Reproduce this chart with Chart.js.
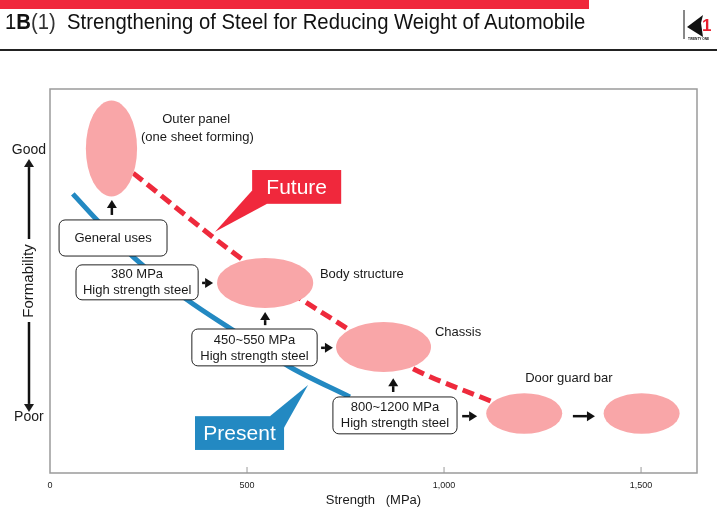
<!DOCTYPE html>
<html>
<head>
<meta charset="utf-8">
<script src="https://cdn.jsdelivr.net/npm/chart.js@4.4.1/dist/chart.umd.min.js"></script>
<style>
  html, body { margin: 0; padding: 0; background: #fff; }
  #wrap { position: relative; width: 720px; height: 530px; overflow: hidden; }
  #myChart { position: absolute; left: 0; top: 0; }
  .bar { position: absolute; left: 0; top: 0; width: 589px; height: 9px; background: #f0283c; }
  .title { position: absolute; left: 5px; top: 11px; font-family: "Liberation Sans", Arial, sans-serif;
           font-size: 22px; line-height: 22px; white-space: nowrap; color: #111; transform-origin: 0 0; }
  .title .light { font-weight: 300; color: #333; }
  .rule { position: absolute; left: 0; top: 49px; width: 717px; height: 2px; background: #222; }
  .logo { position: absolute; left: 680px; top: 8px; }
</style>
</head>
<body>
<div id="wrap">
  <canvas id="myChart" width="720" height="530"></canvas>
  <div class="bar"></div>
  <div class="title" id="title">1<b>B</b><span class="light">(1)</span>&nbsp; Strengthening of Steel for Reducing Weight of Automobile</div>
  <div class="rule"></div>
  <svg class="logo" width="40" height="36" viewBox="0 0 40 36">
    <line x1="4" y1="2" x2="4" y2="31" stroke="#111" stroke-width="1"/>
    <polygon points="7,19 23,7 21,15 23,29" fill="#111"/>
    <text x="22" y="23" font-family="Liberation Sans, Arial" font-weight="bold" font-size="17" fill="#e8202f">1</text>
    <text x="8" y="32" font-family="Liberation Sans, Arial" font-weight="bold" font-size="3.2" fill="#111">TWENTY ONE</text>
  </svg>
</div>
<script>
// axis
const strengthTicks = [0, 500, 1000, 1500];
const formLabels = ["Good", "Poor"];
const formLabelValues = [84.1, 14.6];

// present steel curve
const presentStrength = [58, 119, 211, 348, 464, 609, 761];
const presentForm = [72.7, 65.9, 56.3, 45.1, 37.2, 27.6, 19.8];

// future steel curve
const futureStrength = [211, 490, 761, 919, 1124];
const futureForm = [78.1, 55.5, 37.2, 27.3, 18.5];

// application regions (strength range, formability range)
const regionNames = ["Outer panel", "Body structure", "Chassis", "Door guard bar", "Door guard bar (next)"];
const regionStrengthMin = [91, 424, 726, 1107, 1405];
const regionStrengthMax = [221, 668, 967, 1300, 1598];
const regionFormMin = [72, 43, 26.3, 10.2, 10.2];
const regionFormMax = [97, 56, 39.3, 20.8, 20.8];

// fit the header text to its width
const titleEl = document.getElementById("title");
titleEl.style.transform = "scaleX(" + (580 / titleEl.scrollWidth) + ")";

// annotation layout (in data units)
const notes = [
  { text: "Outer panel", x: 371, y: 92.2, align: "center" },
  { text: "(one sheet forming)", x: 374, y: 87.5, align: "center" },
  { text: "Body structure", x: 685, y: 51.8, align: "left" },
  { text: "Chassis", x: 977, y: 36.7, align: "left" },
  { text: "Door guard bar", x: 1206, y: 24.5, align: "left" },
];

const steelBoxes = [
  { lines: ["General uses"], x0: 23, x1: 297, y0: 56.5, y1: 65.9 },
  { lines: ["380 MPa", "High strength steel"], x0: 66, x1: 376, y0: 45.1, y1: 54.2 },
  { lines: ["450~550 MPa", "High strength steel"], x0: 360, x1: 678, y0: 27.9, y1: 37.5 },
  { lines: ["800~1200 MPa", "High strength steel"], x0: 718, x1: 1033, y0: 10.2, y1: 19.8 },
];

const arrows = [
  [157, 67.2, 157, 71.1],
  [386, 49.5, 414, 49.5],
  [546, 38.5, 546, 41.9],
  [688, 32.6, 718, 32.6],
  [871, 21.1, 871, 24.7],
  [1046, 14.8, 1084, 14.8],
  [1327, 14.8, 1383, 14.8],
];

const callouts = [
  { text: "Future", color: "#f0283c", x0: 513, x1: 739, y0: 70.1, y1: 78.9,
    tail: [[513, 73.6], [419, 62.8], [551, 70.1]], tx: 626, ty: 74.5 },
  { text: "Present", color: "#2389c2", x0: 368, x1: 594, y0: 6.0, y1: 14.8,
    tail: [[558, 14.8], [655, 22.9], [594, 11.8]], tx: 481, ty: 10.4 },
];

const FONT = "'Liberation Sans', Arial, sans-serif";

function drawArrow(ctx, x0, y0, x1, y1) {
  const a = Math.atan2(y1 - y0, x1 - x0);
  const head = 8, half = 5;
  const bx = x1 - head * Math.cos(a), by = y1 - head * Math.sin(a);
  ctx.beginPath();
  ctx.moveTo(x0, y0);
  ctx.lineTo(bx, by);
  ctx.lineWidth = 2.5;
  ctx.stroke();
  ctx.beginPath();
  ctx.moveTo(x1, y1);
  ctx.lineTo(bx + half * Math.sin(a), by - half * Math.cos(a));
  ctx.lineTo(bx - half * Math.sin(a), by + half * Math.cos(a));
  ctx.closePath();
  ctx.fill();
}

const drawingPlugin = {
  id: "drawing",
  afterDatasetsDraw(chart) {
    const ctx = chart.ctx;
    const xs = chart.scales.x, ys = chart.scales.y;
    const X = v => xs.getPixelForValue(v);
    const Y = v => ys.getPixelForValue(v);
    const area = chart.chartArea;
    ctx.save();

    // frame and inward ticks
    ctx.strokeStyle = "#9a9a9a";
    ctx.lineWidth = 1.5;
    ctx.strokeRect(area.left, area.top, area.right - area.left, area.bottom - area.top);
    ctx.lineWidth = 1;
    strengthTicks.forEach(v => {
      if (v === 0) return;
      ctx.beginPath();
      ctx.moveTo(X(v), area.bottom);
      ctx.lineTo(X(v), area.bottom - 6);
      ctx.stroke();
    });

    // regions
    ctx.fillStyle = "#f9a6a8";
    regionNames.forEach((n, i) => {
      const cx = (X(regionStrengthMin[i]) + X(regionStrengthMax[i])) / 2;
      const cy = (Y(regionFormMin[i]) + Y(regionFormMax[i])) / 2;
      const rx = (X(regionStrengthMax[i]) - X(regionStrengthMin[i])) / 2;
      const ry = (Y(regionFormMin[i]) - Y(regionFormMax[i])) / 2;
      ctx.beginPath();
      ctx.ellipse(cx, cy, rx, ry, 0, 0, Math.PI * 2);
      ctx.fill();
    });

    // steel boxes
    ctx.font = "13px " + FONT;
    ctx.textAlign = "center";
    ctx.textBaseline = "middle";
    steelBoxes.forEach(b => {
      const x0 = X(b.x0), x1 = X(b.x1), y0 = Y(b.y1), y1 = Y(b.y0);
      ctx.beginPath();
      ctx.roundRect(x0, y0, x1 - x0, y1 - y0, 6);
      ctx.fillStyle = "#fff";
      ctx.fill();
      ctx.strokeStyle = "#222";
      ctx.lineWidth = 1;
      ctx.stroke();
      ctx.fillStyle = "#1a1a1a";
      const cx = (x0 + x1) / 2, cy = (y0 + y1) / 2;
      const lh = 16;
      b.lines.forEach((t, k) => {
        ctx.fillText(t, cx, cy + (k - (b.lines.length - 1) / 2) * lh + 0.5);
      });
    });

    // arrows
    ctx.fillStyle = "#111";
    ctx.strokeStyle = "#111";
    arrows.forEach(a => drawArrow(ctx, X(a[0]), Y(a[1]), X(a[2]), Y(a[3])));

    // callouts
    callouts.forEach(c => {
      ctx.fillStyle = c.color;
      ctx.fillRect(X(c.x0), Y(c.y1), X(c.x1) - X(c.x0), Y(c.y0) - Y(c.y1));
      ctx.beginPath();
      c.tail.forEach((p, k) => k ? ctx.lineTo(X(p[0]), Y(p[1])) : ctx.moveTo(X(p[0]), Y(p[1])));
      ctx.closePath();
      ctx.fill();
      ctx.fillStyle = "#fff";
      ctx.font = "21px " + FONT;
      ctx.textAlign = "center";
      ctx.fillText(c.text, X(c.tx), Y(c.ty) + 1);
    });

    // region labels
    ctx.fillStyle = "#1a1a1a";
    ctx.font = "13px " + FONT;
    notes.forEach(n => {
      ctx.textAlign = n.align;
      ctx.fillText(n.text, X(n.x), Y(n.y));
    });

    // formability arrows
    const ax = 29;
    drawArrow(ctx, ax, 239, ax, Y(formLabelValues[0]) + 9);
    drawArrow(ctx, ax, 322, ax, Y(formLabelValues[1]) - 5);

    ctx.restore();
  },
};

const config = {
  type: "scatter",
  data: {
    datasets: [
      {
        label: "Present",
        data: presentStrength.map((x, i) => ({ x: x, y: presentForm[i] })),
        showLine: true,
        borderColor: "#2389c2",
        borderWidth: 5,
        pointRadius: 0,
        cubicInterpolationMode: "monotone",
      },
      {
        label: "Future",
        data: futureStrength.map((x, i) => ({ x: x, y: futureForm[i] })),
        showLine: true,
        borderColor: "#ee2a3c",
        borderWidth: 5,
        borderDash: [12, 6],
        pointRadius: 0,
        cubicInterpolationMode: "monotone",
      },
    ],
  },
  options: {
    responsive: false,
    animation: false,
    devicePixelRatio: 1,
    layout: {
      padding: { left: 0, top: 89, right: 23, bottom: 0 },
    },
    plugins: {
      legend: { display: false },
      tooltip: { enabled: false },
    },
    scales: {
      x: {
        type: "linear",
        min: 0,
        max: 1642,
        afterBuildTicks: scale => {
          scale.ticks = strengthTicks.map(v => ({ value: v }));
        },
        afterFit: scale => {
          scale.height = 57;
        },
        grid: { display: false, drawTicks: false },
        border: { display: false },
        ticks: {
          padding: 7,
          color: "#222",
          font: { family: "'Liberation Sans Narrow', 'Liberation Sans', Arial", size: 9 },
          callback: v => v.toLocaleString("en-US"),
        },
        title: {
          display: true,
          text: "Strength   (MPa)",
          color: "#1a1a1a",
          font: { family: FONT, size: 13 },
          padding: { top: 0, bottom: 22 },
        },
      },
      y: {
        type: "linear",
        min: 0,
        max: 100,
        afterBuildTicks: scale => {
          scale.ticks = formLabelValues.map(v => ({ value: v }));
        },
        afterFit: scale => {
          scale.width = 50;
        },
        grid: { display: false, drawTicks: false },
        border: { display: false },
        ticks: {
          crossAlign: "center",
          padding: 4,
          color: "#1a1a1a",
          font: { family: FONT, size: 14 },
          callback: v => formLabels[formLabelValues.indexOf(v)],
        },
        title: {
          display: true,
          text: "Formability",
          color: "#1a1a1a",
          font: { family: FONT, size: 15 },
          padding: { top: 20, bottom: 0 },
        },
      },
    },
  },
  plugins: [drawingPlugin],
};

const myChart = new Chart(document.getElementById("myChart"), config);
</script>
</body>
</html>
